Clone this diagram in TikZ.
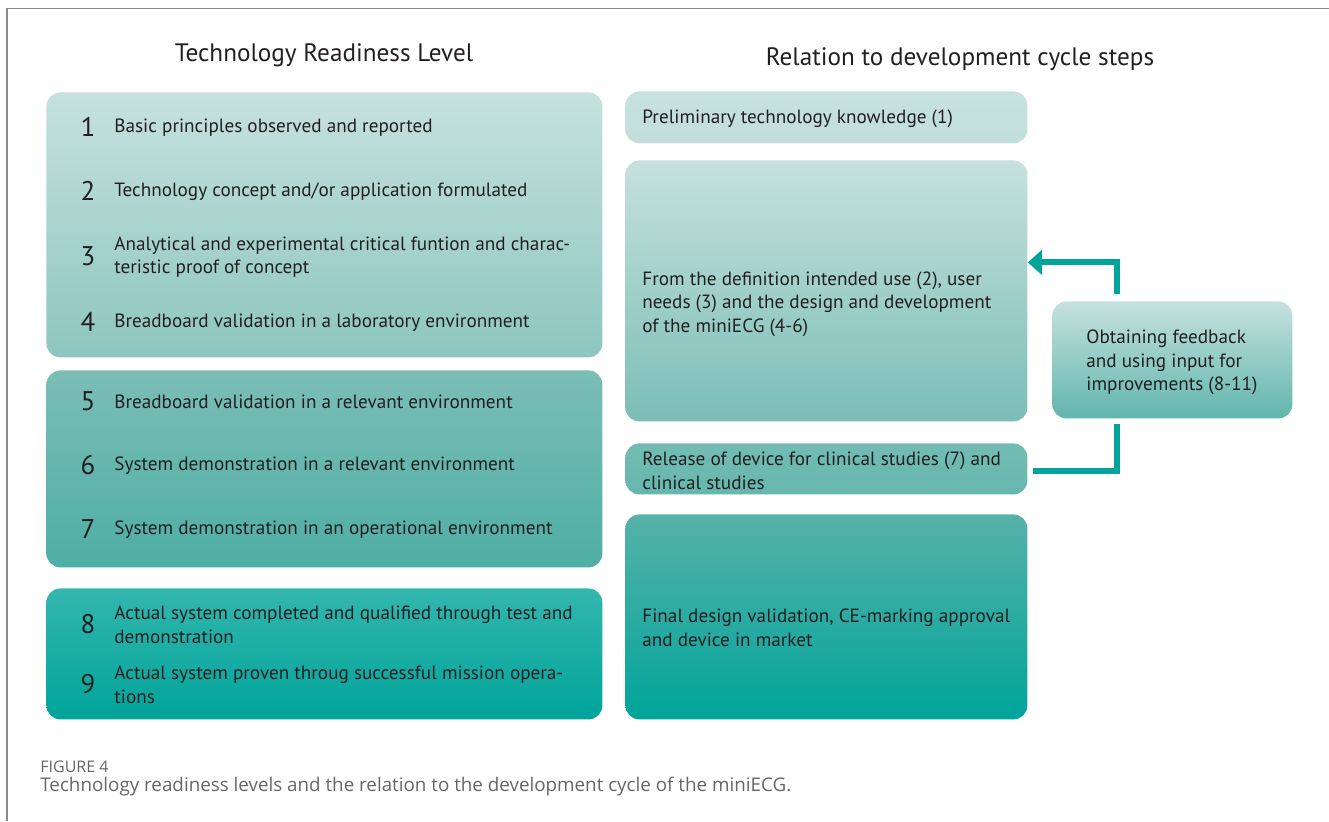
\documentclass[tikz,border=0pt]{standalone}
\usepackage{fontspec}
\setmainfont{PT Sans}
\newfontfamily\capfont{Open Sans}
\usetikzlibrary{arrows.meta,positioning}
\definecolor{inkx}{HTML}{231F20}
\definecolor{palex}{HTML}{C6E1DE}
\definecolor{softx}{HTML}{8DC6BF}
\definecolor{midx}{HTML}{7BBEB6}
\definecolor{deepx}{HTML}{4EAEA5}
\definecolor{tealx}{HTML}{00A49A}
\definecolor{relx}{HTML}{6BB8AF}
\definecolor{framex}{HTML}{8A8A8A}
\definecolor{capx}{HTML}{666666}
\tikzset{
  lvbox/.style 2 args={rounded corners=7pt,top color=#1,bottom color=#2,anchor=north west,inner sep=0pt},
  txt/.style={anchor=west,align=left,inner sep=0pt,yshift=-1pt,font=\fontsize{9.6}{11.8}\selectfont,text=inkx},
  num/.style={inner sep=0pt,font=\fontsize{13.5}{14}\selectfont,text=inkx},
  head/.style={inner sep=0pt,font=\fontsize{12.6}{14}\selectfont,text=inkx},
  fbline/.style={line width=3pt,tealx}
}

\begin{document}
\begin{tikzpicture}[x=0.5pt,y=-0.5pt]
\useasboundingbox (0,0) rectangle (1329,821);
\draw[framex,line width=0.8pt] (7,821) -- (7,8.5) -- (1329,8.5);

% column headings
\node[head] (trlhead) at (324,55) {Technology Readiness Level};
\node[head] (relhead) at (960,59) {Relation to development cycle steps};

% TRL groups
\node[lvbox={palex}{softx},minimum width=278pt,minimum height=132.5pt] (lvA) at (46,92) {};
\node[lvbox={midx}{deepx},minimum width=278pt,minimum height=98.5pt] (lvB) at (46,370) {};
\node[lvbox={tealx!80!white}{tealx},minimum width=278pt,minimum height=65.5pt] (lvC) at (46,588) {};

\foreach \n/\yy/\t in {1/126/{Basic principles observed and reported},
    2/190/{Technology concept and/or application formulated},
    3/255/{Analytical and experimental critical funtion and charac-\\teristic proof of concept},
    4/321/{Breadboard validation in a laboratory environment},
    5/400/{Breadboard validation in a relevant environment},
    6/464/{System demonstration in a relevant environment},
    7/528/{System demonstration in an operational environment},
    8/623/{Actual system completed and qualified through test and\\demonstration},
    9/683/{Actual system proven throug successful mission opera-\\tions}}{
  \node[num] (n\n) at (88,\yy+1) {\n};
  \node[txt] (t\n) at (114,\yy) {\t};
}

% development cycle steps
\node[lvbox={palex}{palex!95!relx},minimum width=201pt,minimum height=26pt] (pre) at (625,91) {};
\node[lvbox={palex}{midx},minimum width=201pt,minimum height=130.5pt] (dev) at (625,160) {};
\node[lvbox={relx!95!white}{relx!95!tealx},minimum width=201pt,minimum height=25.5pt] (rel) at (625,443) {};
\node[lvbox={deepx!95!white}{tealx},minimum width=201pt,minimum height=102.5pt] (fin) at (625,514) {};
\node[lvbox={palex}{relx!90!tealx},minimum width=120pt,minimum height=58.5pt] (fb) at (1052,301) {};

\node[txt] at (642,117) {Preliminary technology knowledge (1)};
\node[txt] at (642,302) {From the definition intended use (2), user\\needs (3) and the design and development\\of the miniECG (4-6)};
\node[txt] at (642,469) {Release of device for clinical studies (7) and\\clinical studies};
\node[txt] at (642,625.5) {Final design validation, CE-marking approval\\and device in market};
\node[txt] at (1086,360.5) {Obtaining feedback\\and using input for\\improvements (8-11)};

% feedback loop
\draw[fbline,-{Triangle[length=7pt,width=12pt]}] ([xshift=-27.5pt,yshift=3.5pt]fb.north) |- ([yshift=14.25pt]dev.east);
\draw[fbline] ([xshift=-27.5pt,yshift=-2.5pt]fb.south) |- ([xshift=2.5pt,yshift=-1.25pt]rel.east);

% caption
\node[anchor=west,inner sep=0pt,text=capx,font=\capfont\fontsize{8}{9}\selectfont] (fig) at (40,767) {FIGURE 4};
\node[anchor=west,inner sep=0pt,text=capx,font=\capfont\fontsize{9.4}{10}\selectfont] (cap) at (40,787) {Technology readiness levels and the relation to the development cycle of the miniECG.};
\end{tikzpicture}
\end{document}
